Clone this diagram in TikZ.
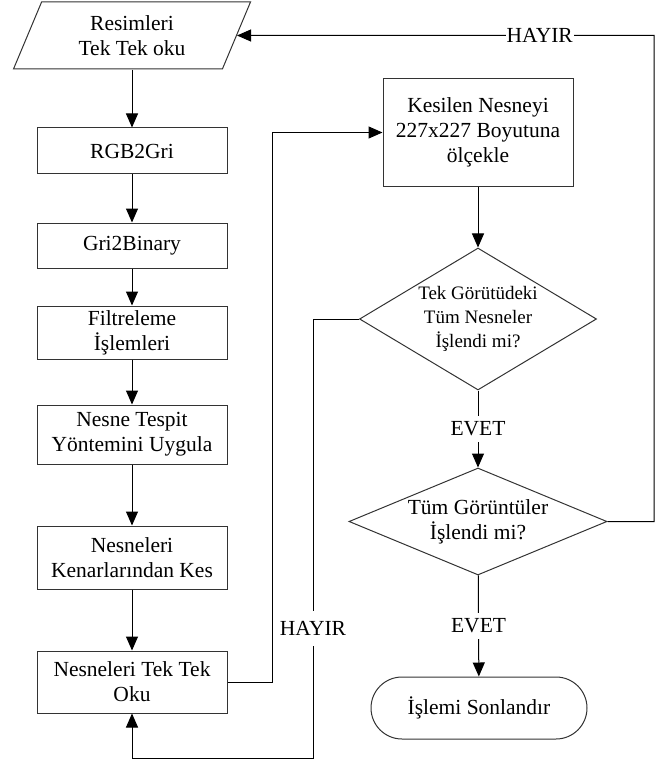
\documentclass[tikz,border=0pt]{standalone}
\usepackage{fontspec}
\setmainfont{Liberation Serif}
\usetikzlibrary{shapes.geometric,arrows.meta}
\begin{document}
\begin{tikzpicture}[x=1pt,y=-1pt,
  every node/.style={font=\fontsize{21.5}{25}\selectfont, text=black},
  ln/.style={draw=black, line width=1pt},
  arr/.style={ln, -{Triangle[length=14pt,width=12pt]}},
  box/.style={rectangle, draw=black!80, line width=1pt, minimum width=190pt, inner sep=0pt, align=center},
  io/.style={trapezium, trapezium left angle=55, trapezium right angle=125, trapezium stretches body, draw=black!80, line width=1pt, minimum width=237pt, minimum height=67pt, inner sep=0pt, align=center},
  dec/.style={diamond, draw=black!80, line width=1pt, inner sep=0pt, align=center},
  term/.style={rectangle, rounded corners=31pt, draw=black!80, line width=1pt, minimum width=216pt, minimum height=62pt, align=center},
  lbl/.style={fill=white, inner xsep=1pt, inner ysep=6pt},
  lblv/.style={fill=white, inner xsep=1pt, inner ysep=10pt}
]
\useasboundingbox (0,0) rectangle (666,762);

\node[io] (in) at (132,35.5) {Resimleri\\Tek Tek oku};
\node[box, minimum height=46pt] (rgb) at (132,151) {RGB2Gri};
\node[box, minimum height=45pt] (gri) at (132,245.5) {Gri2Binary};
\node[box, minimum height=53pt] (filt) at (132,332.5) {Filtreleme\\İşlemleri};
\node[box, minimum height=59pt] (tespit) at (132,434.5) {Nesne Tespit\\Yöntemini Uygula};
\node[box, minimum height=63pt] (kenar) at (132,557.5) {Nesneleri\\Kenarlarından Kes};
\node[box, minimum height=62pt] (oku) at (132,682) {Nesneleri Tek Tek\\Oku};
\node[box, minimum height=107pt] (olc) at (478,132.5) {Kesilen Nesneyi\\227x227 Boyutuna\\ölçekle};
\node[dec, minimum width=237pt, minimum height=142pt, aspect=1.67, font=\fontsize{19}{24}\selectfont] (d1) at (478,319) {Tek Görütüdeki\\Tüm Nesneler\\İşlendi mi?};
\node[dec, minimum width=258pt, minimum height=107pt, aspect=2.41] (d2) at (478,521.5) {Tüm Görüntüler\\İşlendi mi?};
\node[term] (end) at (479,708) {İşlemi Sonlandır};

\coordinate (p1) at (272,132.5);
\coordinate (q1) at (654,521.5);
\coordinate (q2) at (654,35.5);
\coordinate (r1) at (313,319);
\coordinate (r2) at (313,758);
\coordinate (r3) at (132,758);

\draw[arr] (in) -- (rgb);
\draw[arr] (rgb) -- (gri);
\draw[arr] (gri) -- (filt);
\draw[arr] (filt) -- (tespit);
\draw[arr] (tespit) -- (kenar);
\draw[arr] (kenar) -- (oku);
\draw[arr] (oku.east) -| (p1) -- (olc.west);
\draw[arr] (olc) -- (d1);
\draw[arr] (d1) -- node[lbl]{EVET} (d2);
\draw[arr] (d2) -- node[lbl]{EVET} (end);
\draw[arr] (d2.east) -- (q1) -- (q2) -- node[lbl, pos=0.274]{HAYIR} (in.east);
\draw[arr] (d1.west) -- (r1) -- node[lblv, pos=0.705]{HAYIR} (r2) -- (r3) -- (oku.south);
\end{tikzpicture}
\end{document}
